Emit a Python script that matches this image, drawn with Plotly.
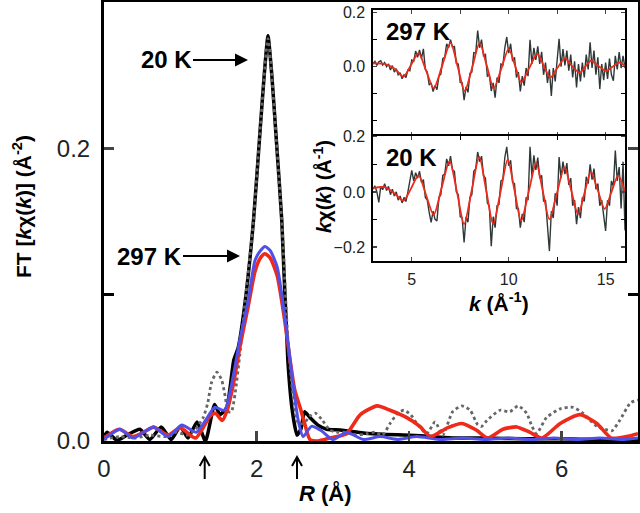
import plotly.graph_objects as go

# ---------------- main panel: FT magnitude ----------------
R_black = [0.0, 0.04, 0.17, 0.3, 0.47, 0.6, 0.75, 0.88, 1.0, 1.1, 1.22, 1.33, 1.45, 1.52, 1.61, 1.7, 1.76,
           1.85, 1.96, 2.05, 2.1, 2.15, 2.2, 2.26, 2.33, 2.41, 2.47, 2.53, 2.58, 2.63, 2.7, 2.8, 2.92, 3.1,
           3.4, 3.7, 4.0, 4.3, 4.6, 5.0, 5.5, 6.0, 6.5, 7.0]
FT_black = [0.003, 0.006, 0.0005, 0.004, 0.008, 0.001, 0.0095, 0.001, 0.01, 0.002, 0.013, 0.0, 0.025, 0.018,
            0.023, 0.055, 0.064, 0.095, 0.151, 0.215, 0.25, 0.277, 0.25, 0.205, 0.151, 0.055, 0.02, 0.004,
            0.008, 0.02, 0.016, 0.011, 0.008, 0.0075, 0.0055, 0.0045, 0.004, 0.003, 0.002, 0.002, 0.0015,
            0.0015, 0.001, 0.001]

R_gray = [0.0, 0.2, 0.4, 0.6, 0.8, 0.95, 1.1, 1.2, 1.3, 1.36, 1.41, 1.48, 1.54, 1.58, 1.63, 1.67, 1.72, 1.78,
          1.85, 1.96, 2.05, 2.15, 2.26, 2.33, 2.41, 2.48, 2.55, 2.62, 2.7, 2.77, 2.85, 2.96, 3.05, 3.15, 3.3,
          3.45, 3.55, 3.65, 3.75, 3.85, 3.93, 4.02, 4.1, 4.23, 4.34, 4.44, 4.57, 4.69, 4.8, 4.9, 4.95, 5.02,
          5.19, 5.32, 5.43, 5.54, 5.61, 5.67, 5.8, 5.98, 6.15, 6.28, 6.46, 6.6, 6.66, 6.76, 6.9, 7.0]
FT_gray = [0.001, 0.003, 0.002, 0.004, 0.003, 0.006, 0.004, 0.008, 0.016, 0.026, 0.04, 0.047, 0.042, 0.033,
           0.02, 0.02, 0.033, 0.059, 0.095, 0.151, 0.215, 0.275, 0.205, 0.151, 0.07, 0.03, 0.012, 0.012,
           0.017, 0.019, 0.015, 0.0075, 0.006, 0.006, 0.004, 0.005, 0.006, 0.004, 0.012, 0.019, 0.021, 0.018,
           0.012, 0.005, 0.013, 0.004, 0.02, 0.024, 0.021, 0.011, 0.01, 0.014, 0.021, 0.02, 0.024, 0.019,
           0.01, 0.005, 0.016, 0.022, 0.023, 0.019, 0.01, 0.0075, 0.007, 0.014, 0.026, 0.028]

R_red = [0.0, 0.2, 0.38, 0.52, 0.65, 0.84, 1.0, 1.2, 1.39, 1.46, 1.55, 1.62, 1.7, 1.78, 1.89, 1.98, 2.05, 2.11,
         2.18, 2.27, 2.37, 2.44, 2.5, 2.57, 2.63, 2.7, 2.8, 2.96, 3.18, 3.36, 3.58, 3.75, 3.97, 4.14, 4.28,
         4.5, 4.69, 4.88, 5.03, 5.23, 5.41, 5.58, 5.74, 5.98, 6.24, 6.46, 6.65, 6.85, 7.0]
FT_red = [0.002, 0.008, 0.003, 0.006, 0.0095, 0.004, 0.009, 0.002, 0.017, 0.019, 0.014, 0.022, 0.04, 0.064,
          0.092, 0.116, 0.125, 0.128, 0.125, 0.113, 0.082, 0.055, 0.035, 0.023, 0.012, 0.001, 0.0, 0.002,
          0.005, 0.018, 0.024, 0.021, 0.016, 0.01, 0.003, 0.009, 0.012, 0.0075, 0.002, 0.008, 0.0096, 0.006,
          0.002, 0.012, 0.018, 0.012, 0.002, 0.003, 0.005]

R_blue = [0.0, 0.1, 0.21, 0.38, 0.52, 0.65, 0.84, 1.02, 1.21, 1.33, 1.45, 1.58, 1.7, 1.78, 1.89, 1.98, 2.05,
          2.11, 2.18, 2.27, 2.37, 2.44, 2.5, 2.55, 2.61, 2.72, 2.85, 3.0, 3.18, 3.4, 3.62, 3.85, 4.1, 4.4,
          4.7, 5.0, 5.3, 5.6, 5.9, 6.2, 6.5, 6.8, 7.0]
FT_blue = [0.001, 0.005, 0.008, 0.002, 0.006, 0.0095, 0.003, 0.011, 0.006, 0.014, 0.023, 0.021, 0.046, 0.069,
           0.096, 0.1235, 0.13, 0.133, 0.13, 0.119, 0.085, 0.055, 0.03, 0.013, 0.003, 0.01, 0.007, 0.001,
           0.006, 0.001, 0.003, 0.001, 0.003, 0.001, 0.002, 0.001, 0.002, 0.001, 0.002, 0.001, 0.002, 0.001,
           0.002]

# fit-window markers on the R axis
R_window = [1.32, 2.53]

# ---------------- inset: k*chi(k) ----------------
k_data = [round(3.0 + 0.1 * i, 1) for i in range(131)]
kchi_297 = [0.010, 0.020, 0.005, 0.018, 0.022, 0.006, 0.015, 0.000, 0.010, -0.012,
            0.004, -0.020, -0.008, -0.030, -0.022, -0.045, -0.030, -0.040, -0.012, -0.015,
            0.025, 0.020, 0.058, 0.035, 0.062, 0.030, 0.066, -0.010, -0.020, -0.068,
            -0.060, -0.092, -0.070, -0.085, -0.035, -0.028, 0.030, 0.035, 0.085, 0.070,
            0.100, 0.072, 0.075, 0.012, 0.010, -0.058, -0.060, -0.124, -0.075, -0.095,
            -0.025, -0.020, 0.052, 0.050, 0.134, 0.070, 0.100, 0.040, 0.045, -0.035,
            -0.030, -0.090, -0.060, -0.115, -0.040, -0.060, 0.010, 0.005, 0.070, 0.110,
            0.050, 0.085, 0.020, 0.035, -0.040, -0.020, -0.092, -0.035, -0.070, -0.005,
            -0.035, 0.100, 0.010, 0.070, 0.025, 0.075, 0.010, 0.055, -0.030, 0.015,
            -0.060, -0.010, -0.108, -0.005, -0.055, 0.030, 0.103, 0.000, 0.065, 0.005,
            0.060, -0.015, 0.045, -0.040, 0.020, -0.077, 0.010, -0.055, 0.015, -0.040,
            0.045, -0.010, 0.090, -0.005, 0.060, -0.030, 0.035, -0.083, 0.010, -0.050,
            0.015, -0.045, 0.030, -0.030, -0.052, 0.040, -0.010, 0.054, -0.005, 0.040,
            -0.005]
kchi_20 = [0.010, 0.022, 0.000, -0.038, 0.020, 0.008, 0.030, 0.005, 0.020, -0.010,
           0.010, -0.015, 0.000, -0.030, -0.015, -0.040, -0.020, -0.035, 0.000, 0.045,
           0.078, 0.040, 0.070, 0.050, 0.075, 0.035, 0.045, -0.020, -0.030, -0.075,
           -0.111, -0.070, -0.100, -0.105, -0.020, -0.010, 0.060, 0.065, 0.120, 0.095,
           0.130, 0.080, 0.075, 0.000, -0.010, -0.090, -0.095, -0.184, -0.090, -0.110,
           -0.020, -0.010, 0.075, 0.085, 0.145, 0.110, 0.130, 0.060, 0.050, -0.040,
           -0.050, -0.197, -0.090, -0.130, -0.050, -0.045, 0.040, 0.045, 0.125, 0.164,
           0.095, 0.115, 0.035, 0.030, -0.060, -0.060, -0.130, -0.080, -0.110, -0.020,
           -0.030, 0.164, 0.055, 0.133, 0.080, 0.125, 0.050, 0.060, -0.035, -0.030,
           -0.110, -0.215, -0.070, -0.095, -0.005, -0.050, 0.127, 0.050, 0.110, 0.065,
           0.105, 0.025, 0.050, -0.050, -0.030, -0.117, -0.055, -0.095, -0.020, -0.035,
           0.055, 0.030, 0.100, 0.045, 0.085, 0.010, 0.030, -0.050, -0.030, -0.090,
           -0.142, -0.030, -0.050, 0.040, 0.020, 0.150, 0.040, 0.090, -0.060, 0.110,
           -0.140]

k_fit_297 = [3.0, 3.6, 4.14, 4.57, 4.96, 5.35, 5.74, 6.13, 6.57, 7.0, 7.37, 7.73, 8.12, 8.5, 8.87, 9.23,
             9.62, 10.0, 10.33, 10.65, 11.06, 11.47, 11.81, 12.15, 12.52, 12.9, 13.27, 13.67, 13.95,
             14.24, 14.63, 15.02, 15.36, 15.7, 16.0]
fit_297 = [0.012, 0.01, -0.009, -0.037, 0.006, 0.05, -0.015, -0.08, 0.004, 0.088, 0.0, -0.09, -0.002,
           0.087, 0.004, -0.08, -0.007, 0.066, 0.004, -0.058, -0.005, 0.047, 0.003, -0.04, -0.004, 0.031,
           0.002, -0.022, 0.0, 0.022, 0.003, -0.016, 0.0, 0.015, 0.003]

k_fit_20 = [3.0, 3.6, 4.1, 4.57, 4.96, 5.35, 5.74, 6.13, 6.54, 6.95, 7.33, 7.7, 8.09, 8.48, 8.84, 9.2,
            9.58, 9.95, 10.3, 10.64, 11.03, 11.42, 11.76, 12.1, 12.49, 12.88, 13.23, 13.58, 13.91, 14.24,
            14.6, 14.95, 15.3, 15.65, 16.0]
fit_20 = [0.014, 0.017, -0.005, -0.032, 0.012, 0.06, -0.012, -0.083, 0.015, 0.112, 0.0, -0.117, 0.005,
          0.127, 0.005, -0.117, 0.0, 0.117, 0.006, -0.105, 0.0, 0.105, 0.003, -0.099, -0.004, 0.09, 0.004,
          -0.081, -0.004, 0.072, 0.005, -0.062, -0.001, 0.06, 0.0]

# ---------------- geometry helpers (pixel -> paper) ----------------
L, R_, T, B = 104, 2, 2, 72
W, H = 640, 513
PW, PH = W - L - R_, H - T - B


def px(x):
    return (x - L) / PW


def py(y):
    return (H - B - y) / PH


FONT = "Liberation Sans, Arial, sans-serif"
BLUE = "#5050e8"
RED = "#ee2a1a"

fig = go.Figure()
fig.add_trace(go.Scatter(x=R_black, y=FT_black, mode="lines",
                         line=dict(color="black", width=3.5, shape="spline", smoothing=0.5)))
fig.add_trace(go.Scatter(x=R_gray, y=FT_gray, mode="lines",
                         line=dict(color="#666666", width=2.8, dash="dot", shape="spline", smoothing=0.6)))
fig.add_trace(go.Scatter(x=R_red, y=FT_red, mode="lines",
                         line=dict(color=RED, width=3.6, shape="spline", smoothing=0.6)))
fig.add_trace(go.Scatter(x=R_blue, y=FT_blue, mode="lines",
                         line=dict(color=BLUE, width=3, shape="spline", smoothing=0.6)))

# inset traces
fig.add_trace(go.Scatter(x=k_data, y=kchi_297, mode="lines", line=dict(color="#2f3838", width=1.4),
                         xaxis="x2", yaxis="y2"))
fig.add_trace(go.Scatter(x=k_fit_297, y=fit_297, mode="lines",
                         line=dict(color=RED, width=1.8, shape="spline", smoothing=0.8),
                         xaxis="x2", yaxis="y2"))
fig.add_trace(go.Scatter(x=k_data, y=kchi_20, mode="lines", line=dict(color="#2f3838", width=1.4),
                         xaxis="x4", yaxis="y4"))
fig.add_trace(go.Scatter(x=k_fit_20, y=fit_20, mode="lines",
                         line=dict(color=RED, width=1.8, shape="spline", smoothing=0.8),
                         xaxis="x4", yaxis="y4"))

inset_x = [px(373), px(625)]
axis_common = dict(showgrid=False, zeroline=False, showline=True, linecolor="black", automargin=False)
inset_minor = dict(ticks="inside", ticklen=4, tickwidth=1.2, tickcolor="black")

fig.update_layout(
    width=W, height=H, margin=dict(l=L, r=R_, t=T, b=B, autoexpand=False),
    paper_bgcolor="white", plot_bgcolor="white", showlegend=False,
    font=dict(family=FONT, color="black"),
    xaxis=dict(domain=[0, 1], range=[0, 7], tickvals=[0, 2, 4, 6], ticks="inside", ticklen=10,
               tickwidth=2.5, linewidth=3, mirror=True, tickfont=dict(size=24, color="#222"),
               ticklabelstandoff=4, **axis_common),
    xaxis3=dict(overlaying="x", side="top", anchor="y", range=[0, 7], tickvals=[1, 2, 3, 4, 5, 6],
                ticks="inside", ticklen=8, tickwidth=2.5, showticklabels=False, showline=False,
                showgrid=False, zeroline=False, automargin=False),
    yaxis=dict(domain=[0, 1], range=[0, 0.3], tickvals=[0, 0.2], ticks="inside", ticklen=10,
               tickwidth=2.5, linewidth=3, mirror="ticks", tickformat=".1f",
               minor=dict(tickvals=[0.1], ticks="inside", ticklen=10, tickwidth=2.5, tickcolor="black"),
               tickfont=dict(size=24, color="#222"), ticklabelstandoff=6, **axis_common),
    xaxis2=dict(domain=inset_x, anchor="y2", range=[3, 16], tickvals=[5, 7.5, 10, 12.5, 15],
                showticklabels=False, ticks="inside", ticklen=4, tickwidth=1.2, linewidth=1.6,
                mirror="ticks", **axis_common),
    yaxis2=dict(domain=[py(135.5), py(10)], anchor="x2", range=[-0.255, 0.21],
                tickvals=[0, 0.2], tickformat=".1f", minor=dict(tickvals=[-0.2, -0.1, 0.1], **inset_minor),
                ticks="inside", ticklen=4, tickwidth=1.2, linewidth=1.6, mirror="ticks",
                tickfont=dict(size=16, color="#222"), ticklabelstandoff=3, **axis_common),
    xaxis4=dict(domain=inset_x, anchor="y4", range=[3, 16], tickvals=[5, 10, 15],
                minor=dict(tickvals=[7.5, 12.5], **inset_minor), ticks="inside", ticklen=4, tickwidth=1.2,
                linewidth=1.6, mirror="ticks", tickfont=dict(size=16, color="#222"),
                ticklabelstandoff=3, **axis_common),
    yaxis4=dict(domain=[py(261), py(135.5)], anchor="x4", range=[-0.251, 0.205],
                tickvals=[-0.2, 0, 0.2], tickformat=".1f", minor=dict(tickvals=[-0.1, 0.1], **inset_minor),
                ticks="inside", ticklen=4, tickwidth=1.2, linewidth=1.6, mirror="ticks",
                tickfont=dict(size=16, color="#222"), ticklabelstandoff=3, **axis_common),
)

ann = []


def text(xp, yp, s, size, angle=0):
    ann.append(dict(x=px(xp), y=py(yp), xref="paper", yref="paper", text=s, showarrow=False,
                    font=dict(size=size, family=FONT, color="black"), textangle=angle,
                    xanchor="center", yanchor="middle"))


def label_arrow(xt, yt, xtip, ytip, s, size):
    # text centred at (xt, yt); arrow runs from the text box edge to the tip
    ann.append(dict(x=px(xtip), y=py(ytip), ax=xt - xtip, ay=yt - ytip, xref="paper", yref="paper",
                    axref="pixel", ayref="pixel", text=s, showarrow=True, arrowhead=2,
                    arrowsize=1.3, arrowwidth=2, arrowcolor="black", standoff=0,
                    font=dict(size=size, family=FONT, color="black")))


label_arrow(166, 60, 248, 60, "<b>20 K</b>", 24)
label_arrow(149, 256, 240, 256, "<b>297 K</b>", 24)
text(418, 31, "<b>297 K</b>", 24)
text(411, 157, "<b>20 K</b>", 24)
text(22, 207, "<b>FT [<i>k</i>χ(<i>k</i>)] (Å<sup>-2</sup>)</b>", 21, -90)
text(325, 493, "<b><i>R</i> (Å)</b>", 22)
text(499, 302, "<b><i>k</i> (Å<sup>-1</sup>)</b>", 21)
text(322, 187, "<b><i>k</i>χ(<i>k</i>) (Å<sup>-1</sup>)</b>", 20, -90)

# upward arrows under the R axis marking the fit window (x in data units, y in paper)
shapes = []
for rw in R_window:
    shapes.append(dict(type="line", xref="x", yref="paper", x0=rw, x1=rw, y0=py(479), y1=py(458),
                       line=dict(color="black", width=2)))
    shapes.append(dict(type="path", xref="paper", yref="paper",
                       path="M {a},{b} L {c},{d} L {e},{b}".format(
                           a=px(L + rw * PW / 7 - 5), b=py(466), c=px(L + rw * PW / 7), d=py(457),
                           e=px(L + rw * PW / 7 + 5)),
                       line=dict(color="black", width=2)))

fig.update_layout(annotations=ann, shapes=shapes)
fig.write_html("out.html", config={"displayModeBar": False, "staticPlot": True},
               post_script="document.body.style.margin='0';")
